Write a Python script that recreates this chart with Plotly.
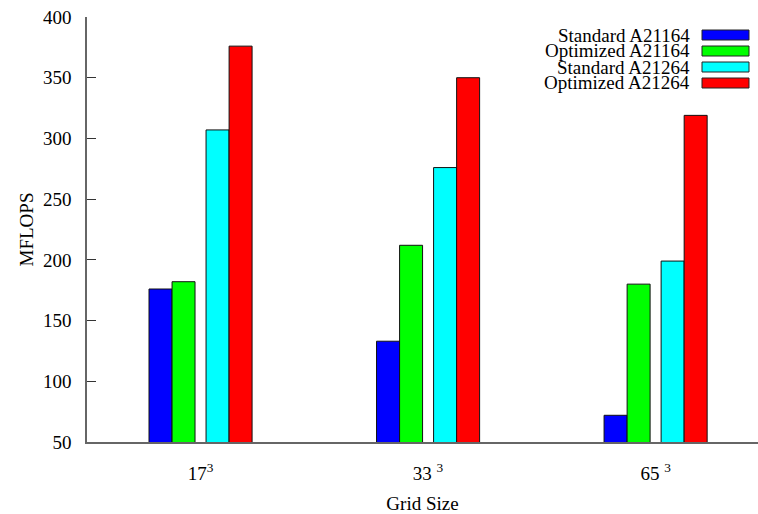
import plotly.graph_objects as go

# Grid sizes and measured MFLOPS per processor / code version
grid_labels = ["17<sup>3</sup>", "33 <sup>3</sup>", "65 <sup>3</sup>"]
series_names = ["Standard A21164", "Optimized A21164", "Standard A21264", "Optimized A21264"]
standard_a21164 = [176, 133, 72]
optimized_a21164 = [182, 212, 180]
standard_a21264 = [307, 276, 199]
optimized_a21264 = [376, 350, 319]
y_ticks = [50, 100, 150, 200, 250, 300, 350, 400]

series_values = [standard_a21164, optimized_a21164, standard_a21264, optimized_a21264]
colors = ["#0000ff", "#00ff00", "#00ffff", "#ff0000"]
# bar offsets within a group (in category units): two pairs with a small gap
bar_w = 0.101
offsets = [-0.176, -0.0747, 0.0747, 0.176]

FONT = "Liberation Serif"
FS = 19
positions = list(range(len(grid_labels)))

fig = go.Figure()
for name, vals, col, off in zip(series_names, series_values, colors, offsets):
    fig.add_trace(go.Bar(
        x=positions, y=vals, name=name,
        width=bar_w, offset=off - bar_w / 2,
        marker=dict(color=col, line=dict(color="#111111", width=1)),
        showlegend=False,
    ))

# legend drawn at the top right: label on the left, colour box on the right
PLOT_L, PLOT_W, PLOT_B, PLOT_H = 87, 671, 442, 425
row_y = [35, 51, 67, 83]
for name, col, yy in zip(series_names, colors, row_y):
    fig.add_annotation(
        xref="paper", yref="paper", x=(692 - PLOT_L) / PLOT_W, y=(PLOT_B - yy) / PLOT_H,
        text=name, showarrow=False, xanchor="right", yanchor="middle",
        font=dict(family=FONT, size=FS, color="#000"),
    )
    fig.add_shape(type="rect", xref="paper", yref="paper",
                  x0=(702 - PLOT_L) / PLOT_W, x1=(749 - PLOT_L) / PLOT_W,
                  y0=(PLOT_B - (yy + 5)) / PLOT_H, y1=(PLOT_B - (yy - 5)) / PLOT_H,
                  fillcolor=col, line=dict(color="#222", width=1))

fig.update_layout(
    width=758, height=514,
    margin=dict(l=87, r=0, t=17, b=72),
    paper_bgcolor="white", plot_bgcolor="white",
    font=dict(family=FONT, size=FS, color="#000"),
    barmode="overlay",
    xaxis=dict(
        range=[-0.499, 2.45], tickmode="array", tickvals=positions, ticktext=grid_labels,
        showline=True, linecolor="#666", linewidth=1.5, showgrid=False, zeroline=False,
        ticks="", ticklabelstandoff=13,
        tickfont=dict(family=FONT, size=FS),
        title=dict(text="Grid Size", font=dict(family=FONT, size=FS), standoff=18),
    ),
    yaxis=dict(
        range=[50, 400], tickmode="array", tickvals=y_ticks,
        showline=True, linecolor="#666", linewidth=1.5, showgrid=False, zeroline=False,
        ticks="inside", ticklen=9, tickcolor="#333", tickwidth=1,
        ticklabelstandoff=10,
        tickfont=dict(family=FONT, size=FS),
        title=dict(text="MFLOPS", font=dict(family=FONT, size=FS), standoff=4),
    ),
)

fig.write_html("out.html")
